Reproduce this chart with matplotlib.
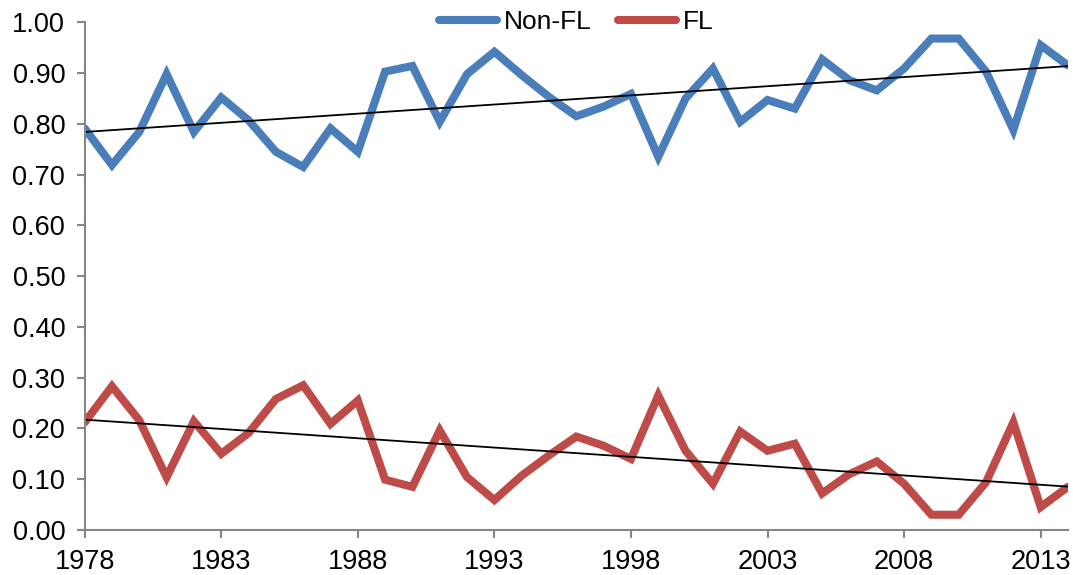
import matplotlib
matplotlib.use("Agg")
import matplotlib.pyplot as plt
import numpy as np

plt.rcParams["font.family"] = ["Liberation Sans", "DejaVu Sans"]

years = np.arange(1978, 2015)
non_fl = [0.791, 0.719, 0.784, 0.898, 0.784, 0.852, 0.807, 0.745, 0.715, 0.791,
          0.745, 0.903, 0.914, 0.804, 0.898, 0.942, 0.896, 0.853, 0.815, 0.834,
          0.859, 0.735, 0.850, 0.909, 0.804, 0.847, 0.830, 0.927, 0.886, 0.866,
          0.909, 0.968, 0.968, 0.903, 0.788, 0.955, 0.915]
fl = [0.212, 0.283, 0.216, 0.104, 0.214, 0.150, 0.191, 0.258, 0.285, 0.209,
      0.255, 0.099, 0.085, 0.196, 0.104, 0.059, 0.107, 0.147, 0.184, 0.166,
      0.140, 0.265, 0.156, 0.091, 0.194, 0.156, 0.170, 0.072, 0.110, 0.135,
      0.091, 0.030, 0.030, 0.094, 0.212, 0.045, 0.085]
xticks = [1978, 1983, 1988, 1993, 1998, 2003, 2008, 2013]
yticks = np.arange(0, 1.01, 0.1)

blue = "#4A7EBB"
red = "#BE4B48"
grey = "#868686"

fig = plt.figure(figsize=(10.73, 5.75), dpi=100)
ax = fig.add_axes([0.0789, 0.0783, 0.9164, 0.8829])

ax.plot(years, non_fl, color=blue, lw=5.8, label="Non-FL",
        solid_joinstyle="miter", solid_capstyle="round")
ax.plot(years, fl, color=red, lw=5.8, label="FL",
        solid_joinstyle="miter", solid_capstyle="round")

# linear trend lines
for series in (non_fl, fl):
    k, b = np.polyfit(years, series, 1)
    ax.plot(years, k * years + b, color="black", lw=1.3)

ax.set(xlim=(1978, 2014), ylim=(0, 1.0))
ax.set_xticks(xticks)
ax.set_yticks(yticks)
ax.set_yticklabels([f"{v:.2f}" for v in yticks])
ax.tick_params(labelsize=19.5, colors=grey, labelcolor="black", length=6, width=1.5)
ax.tick_params(axis="y", pad=8)
ax.tick_params(axis="x", pad=8)

for side in ("top", "right"):
    ax.spines[side].set_visible(False)
for side in ("left", "bottom"):
    ax.spines[side].set_color(grey)
    ax.spines[side].set_linewidth(1.5)

ax.legend(loc="upper center", bbox_to_anchor=(0.5, 1.06), ncol=2, frameon=False,
          fontsize=19, handlelength=2.2, handletextpad=0.25, columnspacing=1.0,
          borderpad=0.2)

fig.savefig("out.png", dpi=100)
